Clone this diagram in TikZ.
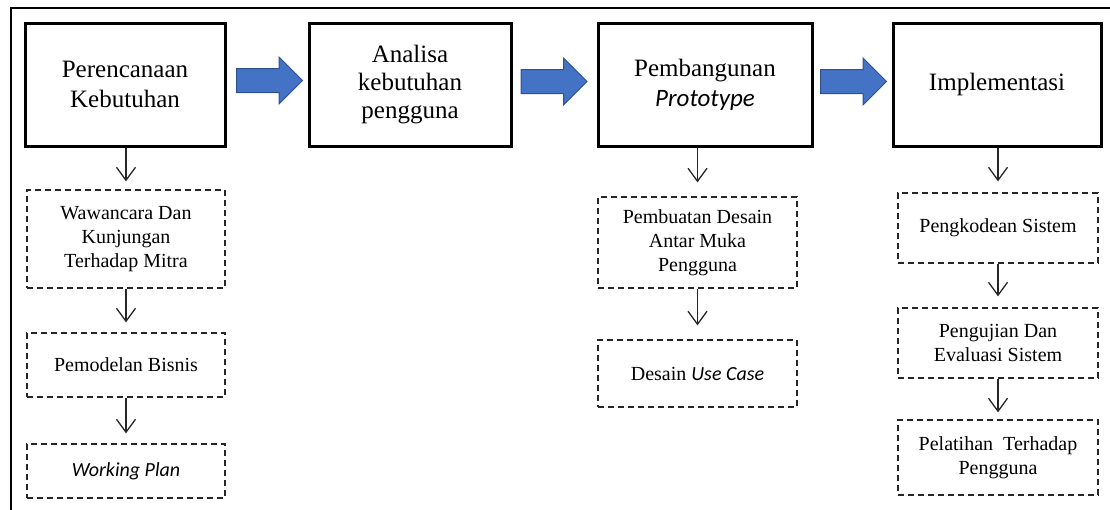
\documentclass[tikz,border=0pt]{standalone}
\usepackage{fontspec}
\setmainfont{Liberation Serif}
\newfontfamily\calibfont{Carlito}
\usetikzlibrary{arrows.meta,shapes.arrows}
\definecolor{arrblue}{HTML}{4472C4}
\definecolor{arredge}{HTML}{2F528F}
\begin{document}
\begin{tikzpicture}[x=1pt,y=-1pt,
  mainbox/.style={draw, line width=3pt, align=center, inner sep=0pt,
    font=\fontsize{25}{30}\selectfont, minimum height=123pt},
  subbox/.style={draw=black!85, line width=1.3pt, dash pattern=on 6pt off 4pt,
    align=center, inner sep=0pt, font=\fontsize{20}{24}\selectfont},
  conn/.style={draw=black!85, line width=1.3pt, -{Straight Barb[length=13pt,width=19pt]}},
  bigarrow/.style={single arrow, draw=arredge, fill=arrblue, line width=1pt,
    inner sep=0pt, text height=11.5pt, text depth=11.5pt, text width=0pt,
    single arrow head extend=11.5pt, minimum height=66pt},
  frame/.style={draw, line width=2pt}
]
\useasboundingbox (0,0) rectangle (1110,509);
\draw[frame] (1112,8) -| (11,511);

% main stage boxes
\node[mainbox, minimum width=200pt] (b1) at (125,84.5) {Perencanaan\\Kebutuhan};
\node[mainbox, minimum width=202pt, font=\fontsize{25}{28}\selectfont] (b2) at (410,84.5) {Analisa\\kebutuhan\\pengguna};
\node[mainbox, minimum width=214pt] (b3) at (705,84.5) {Pembangunan\\{\calibfont\itshape Prototype}};
\node[mainbox, minimum width=208pt] (b4) at (997,84.5) {Implementasi};

% block arrows between stages
\path (b1.east) -- (b2.west) coordinate[pos=.5] (m1);
\path (b2.east) -- (b3.west) coordinate[pos=.5] (m2);
\path (b3.east) -- (b4.west) coordinate[pos=.5] (m3);
\node[bigarrow] (a1) at ([xshift=-3.5pt,yshift=4pt]m1) {};
\node[bigarrow] (a2) at ([xshift=-6.5pt,yshift=3pt]m2) {};
\node[bigarrow] (a3) at ([xshift=-5pt,yshift=3pt]m3) {};

% sub boxes column 1
\node[subbox, minimum width=198pt, minimum height=98pt] (s1) at (126,239) {Wawancara Dan\\Kunjungan\\Terhadap Mitra};
\node[subbox, minimum width=198pt, minimum height=64pt] (s2) at (126,365) {Pemodelan Bisnis};
\node[subbox, minimum width=198pt, minimum height=54pt] (s3) at (126,471) {{\calibfont\itshape Working Plan}};

% sub boxes column 3
\node[subbox, minimum width=199pt, minimum height=91pt] (s4) at (697.5,242.5) {Pembuatan Desain\\Antar Muka\\Pengguna};
\node[subbox, minimum width=199pt, minimum height=67pt] (s5) at (697.5,373.5) {Desain {\calibfont\itshape Use Case}};

% sub boxes column 4
\node[subbox, minimum width=200pt, minimum height=70pt] (s6) at (998,228) {Pengkodean Sistem};
\node[subbox, minimum width=200pt, minimum height=70pt] (s7) at (998,343) {Pengujian Dan\\Evaluasi Sistem};
\node[subbox, minimum width=200pt, minimum height=75pt] (s8) at (998,457.5) {Pelatihan\ \ Terhadap\\Pengguna};

% connectors
\draw[conn, shorten >=8pt] (b1.south -| s1.north) -- (s1.north);
\draw[conn, shorten >=10pt] (s1.south) -- (s2.north);
\draw[conn, shorten >=10pt] (s2.south) -- (s3.north);
\draw[conn, shorten >=14pt] (b3.south -| s4.north) -- (s4.north);
\draw[conn, shorten >=14pt] (s4.south) -- (s5.north);
\draw[conn, shorten >=11pt] (b4.south -| s6.north) -- (s6.north);
\draw[conn, shorten >=11pt] (s6.south) -- (s7.north);
\draw[conn, shorten >=7pt] (s7.south) -- (s8.north);
\end{tikzpicture}
\end{document}
